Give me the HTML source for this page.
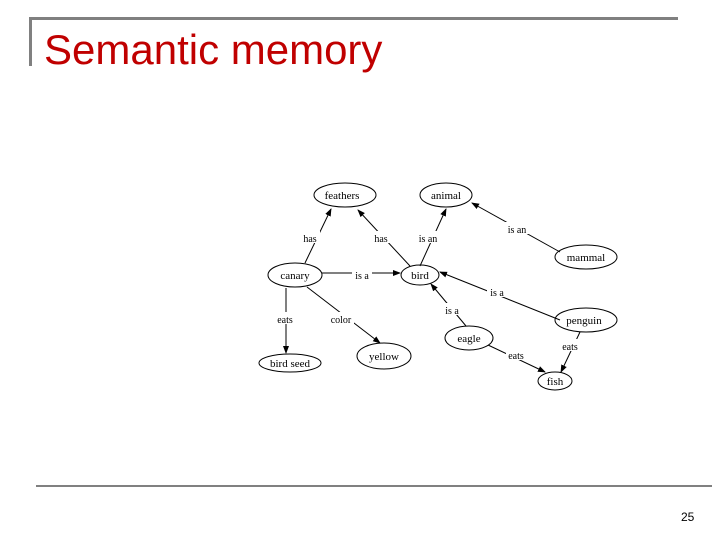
<!DOCTYPE html>
<html><head><meta charset="utf-8"><style>
body{margin:0;width:720px;height:540px;background:#fff;position:relative;overflow:hidden;font-family:"Liberation Sans",sans-serif}
.t{position:absolute;left:44px;top:26px;font-size:42px;color:#c00000;line-height:48px}
</style></head><body>
<div style="position:absolute;left:29px;top:17px;width:649px;height:3px;background:#808080"></div>
<div style="position:absolute;left:29px;top:17px;width:3px;height:49px;background:#808080"></div>
<div class="t">Semantic memory</div>
<div style="position:absolute;left:36px;top:485px;width:676px;height:2px;background:#808080"></div>
<div style="position:absolute;left:681px;top:510px;font-size:12px">25</div>
<svg width="720" height="540" style="position:absolute;left:0;top:0" font-family="Liberation Serif,serif" font-size="11">
<defs><marker id="a" markerWidth="8" markerHeight="8" refX="7" refY="4" orient="auto" markerUnits="userSpaceOnUse"><path d="M0,1L8,4L0,7z" fill="#000"/></marker></defs>
<g stroke="#000" stroke-width="1" fill="none">
<line x1="305" y1="263" x2="331" y2="209" marker-end="url(#a)"/>
<line x1="410" y1="266" x2="358" y2="210" marker-end="url(#a)"/>
<line x1="420" y1="266" x2="446" y2="209" marker-end="url(#a)"/>
<line x1="560" y1="252" x2="472" y2="203" marker-end="url(#a)"/>
<line x1="322" y1="273" x2="400" y2="273" marker-end="url(#a)"/>
<line x1="560" y1="320" x2="440" y2="272" marker-end="url(#a)"/>
<line x1="466" y1="326" x2="431" y2="284" marker-end="url(#a)"/>
<line x1="286" y1="288" x2="286" y2="353" marker-end="url(#a)"/>
<line x1="307" y1="287" x2="380" y2="343" marker-end="url(#a)"/>
<line x1="488" y1="345" x2="545" y2="372" marker-end="url(#a)"/>
<line x1="580" y1="332" x2="561" y2="372" marker-end="url(#a)"/>
<ellipse cx="345" cy="195" rx="31" ry="12"/>
<ellipse cx="446" cy="195" rx="26" ry="12"/>
<ellipse cx="586" cy="257" rx="31" ry="12"/>
<ellipse cx="295" cy="275" rx="27" ry="12"/>
<ellipse cx="420" cy="275" rx="19" ry="10"/>
<ellipse cx="586" cy="320" rx="31" ry="12"/>
<ellipse cx="469" cy="338" rx="24" ry="12"/>
<ellipse cx="290" cy="363" rx="31" ry="9"/>
<ellipse cx="384" cy="356" rx="27" ry="13"/>
<ellipse cx="555" cy="381" rx="17" ry="9"/>
</g>
<g fill="#000" text-anchor="middle">
<text x="342" y="199">feathers</text>
<text x="446" y="199">animal</text>
<text x="586" y="261">mammal</text>
<text x="295" y="279">canary</text>
<text x="420" y="279">bird</text>
<text x="584" y="324">penguin</text>
<text x="469" y="342">eagle</text>
<text x="290" y="367">bird seed</text>
<text x="384" y="360">yellow</text>
<text x="555" y="385">fish</text>
</g>
<g font-size="10" text-anchor="middle">
<g fill="#fff"><rect x="300" y="231" width="20" height="12"/><rect x="371" y="231" width="20" height="12"/><rect x="416" y="231" width="24" height="12"/><rect x="505" y="222" width="24" height="12"/><rect x="352" y="268" width="20" height="12"/><rect x="487" y="285" width="20" height="12"/><rect x="442" y="303" width="20" height="12"/><rect x="275" y="312" width="20" height="12"/><rect x="328" y="312" width="26" height="12"/><rect x="506" y="348" width="20" height="12"/><rect x="560" y="339" width="20" height="12"/></g>
<text x="310" y="242">has</text><text x="381" y="242">has</text><text x="428" y="242">is an</text><text x="517" y="233">is an</text>
<text x="362" y="279">is a</text><text x="497" y="296">is a</text><text x="452" y="314">is a</text>
<text x="285" y="323">eats</text><text x="341" y="323">color</text><text x="516" y="359">eats</text><text x="570" y="350">eats</text>
</g>
</svg>
</body></html>
